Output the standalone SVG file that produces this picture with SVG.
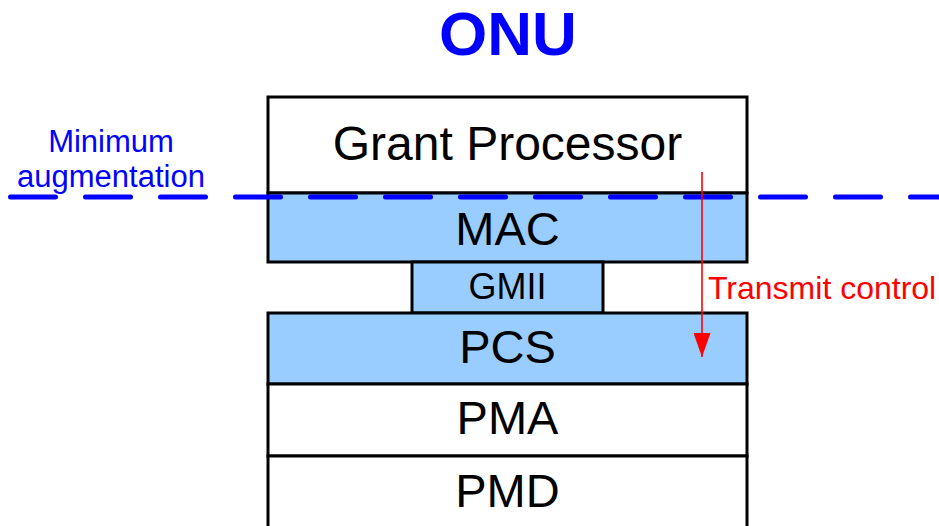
<svg xmlns="http://www.w3.org/2000/svg" width="939" height="526" viewBox="0 0 939 526">
  <style>
    .layer { stroke: #000; stroke-width: 3; }
    .plain { fill: #fff; }
    .shaded { fill: #99ccff; }
    .lbl { font-family: "Liberation Sans", Arial, sans-serif; fill: #000; text-anchor: middle; }
    .big { font-size: 47px; }
    .blue { font-family: "Liberation Sans", Arial, sans-serif; fill: #0000ff; }
    .red { font-family: "Liberation Sans", Arial, sans-serif; fill: #ff0000; }
  </style>
  <defs>
    <marker id="arrowHead" markerUnits="userSpaceOnUse" markerWidth="24" markerHeight="17" refX="24" refY="8.5" orient="auto" viewBox="0 0 24 17">
      <path d="M0,0 L24,8.5 L0,17 Z" fill="#ff0000"/>
    </marker>
  </defs>

  <rect width="939" height="526" fill="#fff"/>

  <text class="blue" x="508" y="55" font-size="62" font-weight="bold" text-anchor="middle">ONU</text>

  <g id="grant-processor">
    <rect class="layer plain" x="268" y="97" width="479" height="96"/>
    <text class="lbl" x="507.5" y="160" font-size="48">Grant Processor</text>
  </g>
  <g id="mac">
    <rect class="layer shaded" x="268" y="193" width="479" height="69"/>
    <text class="lbl big" x="507.5" y="245">MAC</text>
  </g>
  <g id="gmii">
    <rect class="layer shaded" x="412" y="262" width="191" height="51"/>
    <text class="lbl" x="507.5" y="299" font-size="36">GMII</text>
  </g>
  <g id="pcs">
    <rect class="layer shaded" x="268" y="313" width="479" height="71"/>
    <text class="lbl big" x="507.5" y="363">PCS</text>
  </g>
  <g id="pma">
    <rect class="layer plain" x="268" y="384" width="479" height="72"/>
    <text class="lbl big" x="507.5" y="434">PMA</text>
  </g>
  <g id="pmd">
    <rect class="layer plain" x="268" y="456" width="479" height="90"/>
    <text class="lbl big" x="507.5" y="507">PMD</text>
  </g>

  <g id="connectors">
    <!-- minimum augmentation boundary -->
    <line x1="10.5" y1="197" x2="945" y2="197" stroke="#0000ff" stroke-width="5" stroke-linecap="round" stroke-dasharray="45 30"/>
    <!-- transmit control path -->
    <line x1="702" y1="172" x2="702" y2="357" stroke="#ff0000" stroke-width="1.6" marker-end="url(#arrowHead)"/>
  </g>

  <g id="annotations">
    <text class="blue" x="111" y="152" font-size="31" text-anchor="middle">Minimum</text>
    <text class="blue" x="111" y="187" font-size="31" text-anchor="middle">augmentation</text>
    <text class="red" x="708" y="299" font-size="32">Transmit control</text>
  </g>
</svg>
